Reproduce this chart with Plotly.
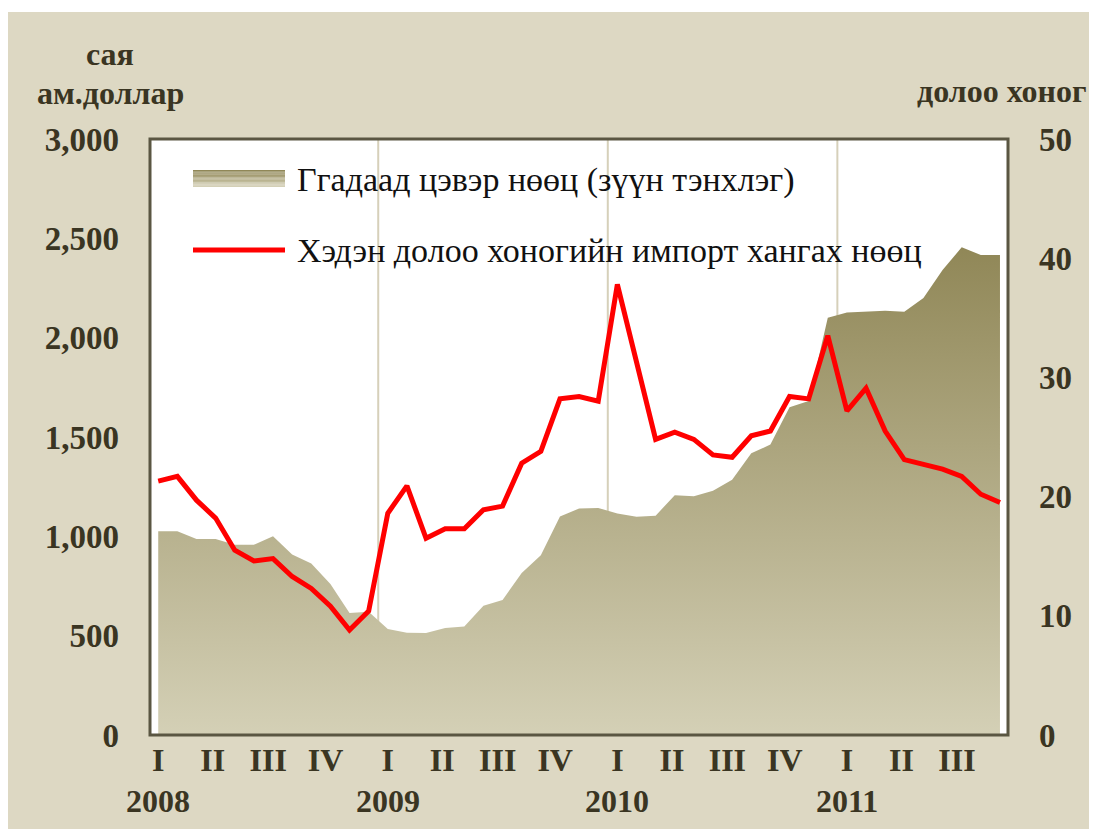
import plotly.graph_objects as go
from plotly.colors import sample_colorscale

# ---------------- data ----------------
months = list(range(45))  # Jan 2008 .. Sep 2011, monthly index
reserves = [1025, 1025, 987, 987, 958, 958, 1000, 908, 863, 760, 614, 620,
            533, 515, 513, 538, 546, 650, 680, 815, 905, 1100, 1140, 1143,
            1115, 1098, 1104, 1207, 1202, 1230, 1285, 1418, 1462, 1650, 1681, 2100,
            2127, 2132, 2135, 2130, 2200, 2340, 2455, 2416, 2416]
weeks = [21.3, 21.7, 19.7, 18.2, 15.5, 14.6, 14.8, 13.3, 12.3, 10.8, 8.8, 10.4,
         18.6, 20.9, 16.5, 17.3, 17.3, 18.9, 19.2, 22.8, 23.8, 28.2, 28.4, 28.0,
         37.8, 31.3, 24.8, 25.4, 24.8, 23.5, 23.3, 25.1, 25.5, 28.4, 28.2, 33.5,
         27.2, 29.1, 25.5, 23.1, 22.7, 22.3, 21.7, 20.2, 19.5]
years = ["2008", "2009", "2010", "2011"]
quarters = ["I", "II", "III", "IV"]
series_names = ["Ггадаад цэвэр нөөц (зүүн тэнхлэг)",
                "Хэдэн долоо хоногийн импорт хангах нөөц"]
left_title = ["сая", "ам.доллар"]
right_title = "долоо хоног"

# ---------------- layout constants ----------------
PAGE_M = 8  # default body margin of the html page
W, H = 1097 - PAGE_M, 829 - PAGE_M
L, R, T, B = 142, 89, 131, 94
PW, PH = W - L - R, H - T - B
BG = "#ddd8c3"
TXT = "#3a3522"
FONT = "Liberation Serif"
grad = [[0, "#d4d0b6"], [1, "#908757"]]


def px(x):  # screen x -> paper x
    return (x - PAGE_M - L) / PW


def py(y):  # screen y -> paper y
    return (H - B - (y - PAGE_M)) / PH


fig = go.Figure()
fig.add_trace(go.Scatter(
    x=months, y=reserves, mode="lines", fill="tozeroy",
    line=dict(width=0, color="rgba(0,0,0,0)"),
    fillgradient=dict(type="vertical", colorscale=grad, start=0, stop=2460),
    name=series_names[0], showlegend=False, hoverinfo="skip"))
fig.add_trace(go.Scatter(
    x=months, y=weeks, mode="lines", yaxis="y2",
    line=dict(width=5, color="#ff0000"),
    name=series_names[1], showlegend=False))

# x ticks: quarter labels
tickvals, ticktext = [], []
offs = [0, 2.85, 5.75, 8.75]
for yi, yr in enumerate(years):
    for qi, q in enumerate(quarters):
        if yr == "2011" and q == "IV":
            continue
        tickvals.append(yi * 12 + offs[qi])
        ticktext.append(q)

tickfont = dict(family=FONT, size=33, color=TXT, weight="bold")
xtickfont = dict(family=FONT, size=32, color=TXT, weight="bold")

shapes = []
# year separators
for yi in range(1, len(years)):
    shapes.append(dict(type="line", xref="x", yref="paper", x0=yi * 12 - 0.5, x1=yi * 12 - 0.5,
                       y0=0, y1=1, line=dict(color="#d6d0ba", width=2), layer="below"))
# plot frame
shapes.append(dict(type="rect", xref="paper", yref="paper", x0=0, x1=1, y0=0, y1=1,
                   line=dict(color="#5a5642", width=3), layer="above"))
# white strip at top edge of picture
shapes.append(dict(type="rect", xref="paper", yref="paper", x0=px(-20), x1=px(1200),
                   y0=py(12), y1=py(-20), fillcolor="white", line=dict(width=0), layer="below"))

# legend (drawn manually for long samples)
n = 14
cols = sample_colorscale(grad, [1 - i / (n - 1) for i in range(n)])
y_top, y_bot = 170, 187
for i in range(n):
    y0 = y_top + (y_bot - y_top) * i / n
    y1 = y_top + (y_bot - y_top) * (i + 1) / n
    shapes.append(dict(type="rect", xref="paper", yref="paper", x0=px(193), x1=px(285),
                       y0=py(y1), y1=py(y0), fillcolor=cols[i], line=dict(width=0)))
shapes.append(dict(type="line", xref="paper", yref="paper", x0=px(193), x1=px(285),
                   y0=py(250), y1=py(250), line=dict(color="#ff0000", width=5)))

annotations = [
    dict(x=px(295), y=py(180), text=series_names[0], xanchor="left", yanchor="middle"),
    dict(x=px(295), y=py(251), text=series_names[1], xanchor="left", yanchor="middle"),
]
for a in annotations:
    a.update(xref="paper", yref="paper", showarrow=False,
             font=dict(family=FONT, size=34, color="#111111"))
title_font = dict(family=FONT, size=32, color=TXT, weight="bold")
for txt, (x, y) in zip(left_title + [right_title], [(110, 54), (110, 93), (1001, 91)]):
    annotations.append(dict(xref="paper", yref="paper", x=px(x), y=py(y), text=txt,
                            showarrow=False, xanchor="center", yanchor="middle", font=title_font))
# year labels under the "I" quarter
for yi, yr in enumerate(years):
    annotations.append(dict(xref="x", yref="paper", x=yi * 12, y=py(801), text=yr,
                            showarrow=False, xanchor="center", yanchor="middle", font=xtickfont))

fig.update_layout(
    width=W, height=H, margin=dict(l=L, r=R, t=T, b=B),
    paper_bgcolor=BG, plot_bgcolor="white", showlegend=False,
    xaxis=dict(range=[-0.43, 44.42], tickvals=tickvals, ticktext=ticktext,
               showgrid=False, zeroline=False, ticks="", tickfont=xtickfont,
               ticklabelstandoff=3, fixedrange=True),
    yaxis=dict(range=[0, 3000], tickvals=[0, 500, 1000, 1500, 2000, 2500, 3000],
               tickformat=",d", showgrid=False, zeroline=False, ticks="",
               tickfont=tickfont, ticklabelstandoff=30),
    yaxis2=dict(range=[0, 50], tickvals=[0, 10, 20, 30, 40, 50], overlaying="y",
                side="right", showgrid=False, zeroline=False, ticks="",
                tickfont=tickfont, ticklabelstandoff=30),
    shapes=shapes, annotations=annotations,
)
fig.write_html("out.html")
